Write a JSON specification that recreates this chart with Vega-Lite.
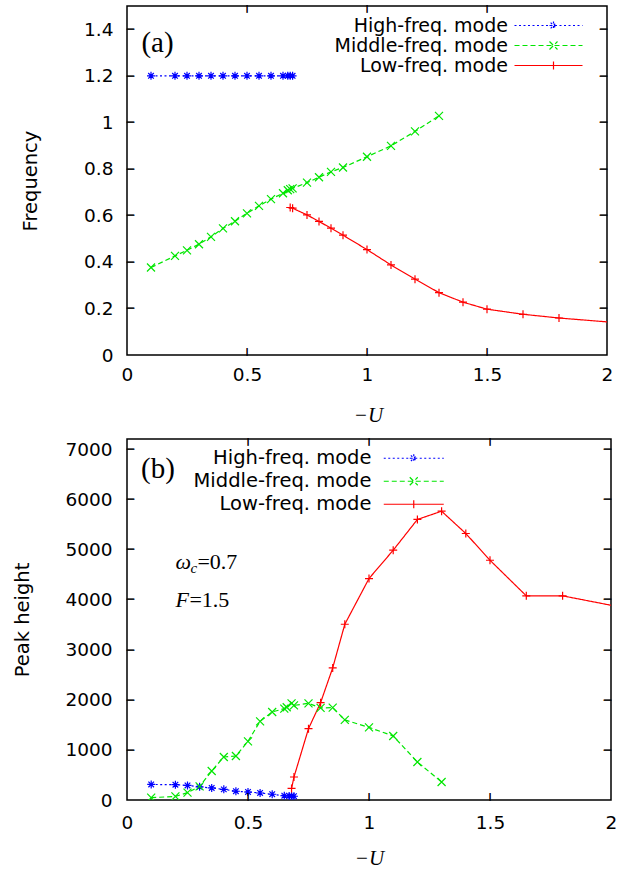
{
  "$schema": "https://vega.github.io/schema/vega-lite/v6.json",
  "background": "white",
  "padding": {"left": 11, "top": 5, "right": 0, "bottom": 0},
  "bounds": "flush",
  "spacing": 84,
  "resolve": {
    "scale": {"color": "independent", "strokeDash": "independent", "x": "independent", "y": "independent"},
    "legend": {"color": "independent", "strokeDash": "independent"}
  },
  "datasets": {
    "freq": [
      {"u": 0.1, "mode": "High-freq. mode", "value": 1.2},
      {"u": 0.2, "mode": "High-freq. mode", "value": 1.2},
      {"u": 0.25, "mode": "High-freq. mode", "value": 1.2},
      {"u": 0.3, "mode": "High-freq. mode", "value": 1.2},
      {"u": 0.35, "mode": "High-freq. mode", "value": 1.2},
      {"u": 0.4, "mode": "High-freq. mode", "value": 1.2},
      {"u": 0.45, "mode": "High-freq. mode", "value": 1.2},
      {"u": 0.5, "mode": "High-freq. mode", "value": 1.2},
      {"u": 0.55, "mode": "High-freq. mode", "value": 1.2},
      {"u": 0.6, "mode": "High-freq. mode", "value": 1.2},
      {"u": 0.65, "mode": "High-freq. mode", "value": 1.2},
      {"u": 0.67, "mode": "High-freq. mode", "value": 1.2},
      {"u": 0.68, "mode": "High-freq. mode", "value": 1.2},
      {"u": 0.69, "mode": "High-freq. mode", "value": 1.2},
      {"u": 0.1, "mode": "Middle-freq. mode", "value": 0.376},
      {"u": 0.2, "mode": "Middle-freq. mode", "value": 0.426},
      {"u": 0.25, "mode": "Middle-freq. mode", "value": 0.45},
      {"u": 0.3, "mode": "Middle-freq. mode", "value": 0.476},
      {"u": 0.35, "mode": "Middle-freq. mode", "value": 0.508},
      {"u": 0.4, "mode": "Middle-freq. mode", "value": 0.544},
      {"u": 0.45, "mode": "Middle-freq. mode", "value": 0.575},
      {"u": 0.5, "mode": "Middle-freq. mode", "value": 0.609},
      {"u": 0.55, "mode": "Middle-freq. mode", "value": 0.641},
      {"u": 0.6, "mode": "Middle-freq. mode", "value": 0.67},
      {"u": 0.65, "mode": "Middle-freq. mode", "value": 0.695},
      {"u": 0.67, "mode": "Middle-freq. mode", "value": 0.708},
      {"u": 0.68, "mode": "Middle-freq. mode", "value": 0.713},
      {"u": 0.69, "mode": "Middle-freq. mode", "value": 0.716},
      {"u": 0.75, "mode": "Middle-freq. mode", "value": 0.741},
      {"u": 0.8, "mode": "Middle-freq. mode", "value": 0.764},
      {"u": 0.85, "mode": "Middle-freq. mode", "value": 0.787},
      {"u": 0.9, "mode": "Middle-freq. mode", "value": 0.806},
      {"u": 1.0, "mode": "Middle-freq. mode", "value": 0.852},
      {"u": 1.1, "mode": "Middle-freq. mode", "value": 0.899},
      {"u": 1.2, "mode": "Middle-freq. mode", "value": 0.961},
      {"u": 1.3, "mode": "Middle-freq. mode", "value": 1.028},
      {"u": 0.68, "mode": "Low-freq. mode", "value": 0.634},
      {"u": 0.69, "mode": "Low-freq. mode", "value": 0.631},
      {"u": 0.75, "mode": "Low-freq. mode", "value": 0.602},
      {"u": 0.8, "mode": "Low-freq. mode", "value": 0.574},
      {"u": 0.85, "mode": "Low-freq. mode", "value": 0.545},
      {"u": 0.9, "mode": "Low-freq. mode", "value": 0.515},
      {"u": 1.0, "mode": "Low-freq. mode", "value": 0.453},
      {"u": 1.1, "mode": "Low-freq. mode", "value": 0.387},
      {"u": 1.2, "mode": "Low-freq. mode", "value": 0.326},
      {"u": 1.3, "mode": "Low-freq. mode", "value": 0.268},
      {"u": 1.4, "mode": "Low-freq. mode", "value": 0.227},
      {"u": 1.5, "mode": "Low-freq. mode", "value": 0.197},
      {"u": 1.65, "mode": "Low-freq. mode", "value": 0.175},
      {"u": 1.8, "mode": "Low-freq. mode", "value": 0.159},
      {"u": 2.1, "mode": "Low-freq. mode", "value": 0.134}
    ],
    "peak": [
      {"u": 0.1, "mode": "High-freq. mode", "value": 310},
      {"u": 0.2, "mode": "High-freq. mode", "value": 305},
      {"u": 0.25, "mode": "High-freq. mode", "value": 290},
      {"u": 0.3, "mode": "High-freq. mode", "value": 262},
      {"u": 0.35, "mode": "High-freq. mode", "value": 240},
      {"u": 0.4, "mode": "High-freq. mode", "value": 212},
      {"u": 0.45, "mode": "High-freq. mode", "value": 175},
      {"u": 0.5, "mode": "High-freq. mode", "value": 160},
      {"u": 0.55, "mode": "High-freq. mode", "value": 140},
      {"u": 0.6, "mode": "High-freq. mode", "value": 115},
      {"u": 0.65, "mode": "High-freq. mode", "value": 85},
      {"u": 0.67, "mode": "High-freq. mode", "value": 80},
      {"u": 0.68, "mode": "High-freq. mode", "value": 78},
      {"u": 0.69, "mode": "High-freq. mode", "value": 75},
      {"u": 0.1, "mode": "Middle-freq. mode", "value": 46},
      {"u": 0.2, "mode": "Middle-freq. mode", "value": 72},
      {"u": 0.25, "mode": "Middle-freq. mode", "value": 146},
      {"u": 0.3, "mode": "Middle-freq. mode", "value": 272},
      {"u": 0.35, "mode": "Middle-freq. mode", "value": 579},
      {"u": 0.4, "mode": "Middle-freq. mode", "value": 858},
      {"u": 0.45, "mode": "Middle-freq. mode", "value": 878},
      {"u": 0.5, "mode": "Middle-freq. mode", "value": 1170},
      {"u": 0.55, "mode": "Middle-freq. mode", "value": 1569},
      {"u": 0.6, "mode": "Middle-freq. mode", "value": 1756},
      {"u": 0.65, "mode": "Middle-freq. mode", "value": 1822},
      {"u": 0.66, "mode": "Middle-freq. mode", "value": 1850},
      {"u": 0.68, "mode": "Middle-freq. mode", "value": 1928},
      {"u": 0.69, "mode": "Middle-freq. mode", "value": 1888},
      {"u": 0.75, "mode": "Middle-freq. mode", "value": 1928},
      {"u": 0.8, "mode": "Middle-freq. mode", "value": 1836},
      {"u": 0.85, "mode": "Middle-freq. mode", "value": 1842},
      {"u": 0.9, "mode": "Middle-freq. mode", "value": 1597},
      {"u": 1.0, "mode": "Middle-freq. mode", "value": 1449},
      {"u": 1.1, "mode": "Middle-freq. mode", "value": 1277},
      {"u": 1.2, "mode": "Middle-freq. mode", "value": 758},
      {"u": 1.3, "mode": "Middle-freq. mode", "value": 359},
      {"u": 0.68, "mode": "Low-freq. mode", "value": 230},
      {"u": 0.69, "mode": "Low-freq. mode", "value": 459},
      {"u": 0.75, "mode": "Low-freq. mode", "value": 1423},
      {"u": 0.8, "mode": "Low-freq. mode", "value": 1942},
      {"u": 0.85, "mode": "Low-freq. mode", "value": 2635},
      {"u": 0.9, "mode": "Low-freq. mode", "value": 3505},
      {"u": 1.0, "mode": "Low-freq. mode", "value": 4417},
      {"u": 1.1, "mode": "Low-freq. mode", "value": 4982},
      {"u": 1.2, "mode": "Low-freq. mode", "value": 5595},
      {"u": 1.3, "mode": "Low-freq. mode", "value": 5760},
      {"u": 1.4, "mode": "Low-freq. mode", "value": 5315},
      {"u": 1.5, "mode": "Low-freq. mode", "value": 4782},
      {"u": 1.65, "mode": "Low-freq. mode", "value": 4072},
      {"u": 1.8, "mode": "Low-freq. mode", "value": 4072},
      {"u": 2.1, "mode": "Low-freq. mode", "value": 3790}
    ]
  },
  "config": {
    "view": {"stroke": "black", "strokeWidth": 1.5},
    "axis": {
      "domain": false, "ticks": false, "tickSize": 0, "grid": false,
      "labelFont": "DejaVu Sans", "labelFontSize": 18.5, "labelColor": "black", "labelFlush": false,
      "titleColor": "black", "titleFontWeight": "normal"
    },
    "axisX": {"labelPadding": 10, "titleFont": "Liberation Serif", "titleFontStyle": "italic", "titleFontSize": 21, "titleBaseline": "middle"},
    "axisY": {"labelPadding": 14, "titleFont": "DejaVu Sans", "titleFontSize": 19.5, "titleBaseline": "middle"}
  },
  "vconcat": [
    {
      "width": 480,
      "height": 349,
      "data": {"name": "freq"},
      "layer": [
        {
          "mark": {"type": "line", "strokeWidth": 1.2, "clip": true},
          "encoding": {
            "x": {"field": "u", "type": "quantitative", "scale": {"domain": [0, 2], "nice": false, "zero": false},
                  "axis": {"values": [0, 0.5, 1, 1.5, 2], "format": "~g", "title": "−U", "titleY": 60, "titleX": 241}},
            "y": {"field": "value", "type": "quantitative", "scale": {"domain": [0, 1.5], "nice": false},
                  "axis": {"values": [0, 0.2, 0.4, 0.6, 0.8, 1, 1.2, 1.4], "format": "~g", "title": "Frequency", "titleX": -97}},
            "color": {"field": "mode", "type": "nominal",
                      "scale": {"domain": ["High-freq. mode", "Middle-freq. mode", "Low-freq. mode"], "range": ["#0000ff", "#00e600", "#ff0000"]},
                      "legend": {
                        "orient": "none", "legendX": 383, "legendY": 10, "title": null, "padding": 0,
                        "labelFont": "DejaVu Sans", "labelFontSize": 19, "labelColor": "black", "labelLimit": 0,
                        "labelAlign": "right", "labelOffset": -21, "rowPadding": 0,
                        "symbolType": "M-1,0H12.6", "symbolSize": 100, "symbolStrokeWidth": 1.2,
                        "encoding": {"symbols": {
                          "shape": {"value": {"expr": "datum.value === 'High-freq. mode' ? 'M-1,0H12.6M6,0H7.6M6.8,-0.8V0.8M6.23,-0.57L7.37,0.57M6.23,0.57L7.37,-0.57' : datum.value === 'Middle-freq. mode' ? 'M-1,0H12.6M6,-0.8L7.6,0.8M6,0.8L7.6,-0.8' : 'M-1,0H12.6M6.8,-0.8V0.8'"}},
                          "size": {"value": 100},
                          "fill": {"value": "transparent"},
                          "strokeWidth": {"value": 1.2}
                        }}
                      }},
            "strokeDash": {"field": "mode", "type": "nominal",
                           "scale": {"domain": ["High-freq. mode", "Middle-freq. mode", "Low-freq. mode"], "range": [[2, 2.5], [5, 3], [1, 0]]},
                           "legend": {"orient": "none", "legendX": 383, "legendY": 10, "title": null}}
          }
        },
        {
          "transform": [{"filter": "datum.mode === 'High-freq. mode'"}],
          "mark": {"type": "point", "filled": false, "size": 64, "strokeWidth": 1.2, "opacity": 1, "clip": true, "color": "#0000ff",
                   "shape": "M-1,0H1M0,-1V1M-0.7,-0.7L0.7,0.7M-0.7,0.7L0.7,-0.7"},
          "encoding": {"x": {"field": "u", "type": "quantitative"}, "y": {"field": "value", "type": "quantitative"}}
        },
        {
          "transform": [{"filter": "datum.mode === 'Middle-freq. mode'"}],
          "mark": {"type": "point", "filled": false, "size": 64, "strokeWidth": 1.2, "opacity": 1, "clip": true, "color": "#00e600",
                   "shape": "M-1,-1L1,1M-1,1L1,-1"},
          "encoding": {"x": {"field": "u", "type": "quantitative"}, "y": {"field": "value", "type": "quantitative"}}
        },
        {
          "transform": [{"filter": "datum.mode === 'Low-freq. mode'"}],
          "mark": {"type": "point", "filled": false, "size": 64, "strokeWidth": 1.2, "opacity": 1, "clip": true, "color": "#ff0000",
                   "shape": "M-1,0H1M0,-1V1"},
          "encoding": {"x": {"field": "u", "type": "quantitative"}, "y": {"field": "value", "type": "quantitative"}}
        },
        {
          "data": {"values": [{}]},
          "mark": {"type": "text", "text": "(a)", "font": "Liberation Serif", "fontSize": 29, "align": "left", "baseline": "middle", "color": "black"},
          "encoding": {"x": {"datum": 0.06, "type": "quantitative"}, "y": {"datum": 1.34, "type": "quantitative"}}
        },
        {"data": {"values": [{}]}, "mark": {"type": "text", "text": "│", "font": "DejaVu Sans Mono", "fontSize": 6, "align": "center", "baseline": "bottom", "color": "black", "stroke": "black", "strokeWidth": 0.8}, "encoding": {"x": {"datum": 0.5, "type": "quantitative"}, "y": {"datum": 0, "type": "quantitative"}}},
        {"data": {"values": [{}]}, "mark": {"type": "text", "text": "│", "font": "DejaVu Sans Mono", "fontSize": 6, "align": "center", "baseline": "bottom", "color": "black", "stroke": "black", "strokeWidth": 0.8}, "encoding": {"x": {"datum": 1, "type": "quantitative"}, "y": {"datum": 0, "type": "quantitative"}}},
        {"data": {"values": [{}]}, "mark": {"type": "text", "text": "│", "font": "DejaVu Sans Mono", "fontSize": 6, "align": "center", "baseline": "bottom", "color": "black", "stroke": "black", "strokeWidth": 0.8}, "encoding": {"x": {"datum": 1.5, "type": "quantitative"}, "y": {"datum": 0, "type": "quantitative"}}},
        {"data": {"values": [{}]}, "mark": {"type": "text", "text": "│", "font": "DejaVu Sans Mono", "fontSize": 6, "align": "center", "baseline": "top", "color": "black", "stroke": "black", "strokeWidth": 0.8}, "encoding": {"x": {"datum": 0.5, "type": "quantitative"}, "y": {"datum": 1.5, "type": "quantitative"}}},
        {"data": {"values": [{}]}, "mark": {"type": "text", "text": "│", "font": "DejaVu Sans Mono", "fontSize": 6, "align": "center", "baseline": "top", "color": "black", "stroke": "black", "strokeWidth": 0.8}, "encoding": {"x": {"datum": 1, "type": "quantitative"}, "y": {"datum": 1.5, "type": "quantitative"}}},
        {"data": {"values": [{}]}, "mark": {"type": "text", "text": "│", "font": "DejaVu Sans Mono", "fontSize": 6, "align": "center", "baseline": "top", "color": "black", "stroke": "black", "strokeWidth": 0.8}, "encoding": {"x": {"datum": 1.5, "type": "quantitative"}, "y": {"datum": 1.5, "type": "quantitative"}}},
        {"data": {"values": [{}]}, "mark": {"type": "text", "text": "─", "font": "DejaVu Sans Mono", "fontSize": 11.6, "align": "left", "baseline": "middle", "dy": 1, "color": "black", "stroke": "black", "strokeWidth": 0.4}, "encoding": {"x": {"datum": 0, "type": "quantitative"}, "y": {"datum": 0.2, "type": "quantitative"}}},
        {"data": {"values": [{}]}, "mark": {"type": "text", "text": "─", "font": "DejaVu Sans Mono", "fontSize": 11.6, "align": "left", "baseline": "middle", "dy": 1, "color": "black", "stroke": "black", "strokeWidth": 0.4}, "encoding": {"x": {"datum": 0, "type": "quantitative"}, "y": {"datum": 0.4, "type": "quantitative"}}},
        {"data": {"values": [{}]}, "mark": {"type": "text", "text": "─", "font": "DejaVu Sans Mono", "fontSize": 11.6, "align": "left", "baseline": "middle", "dy": 1, "color": "black", "stroke": "black", "strokeWidth": 0.4}, "encoding": {"x": {"datum": 0, "type": "quantitative"}, "y": {"datum": 0.6, "type": "quantitative"}}},
        {"data": {"values": [{}]}, "mark": {"type": "text", "text": "─", "font": "DejaVu Sans Mono", "fontSize": 11.6, "align": "left", "baseline": "middle", "dy": 1, "color": "black", "stroke": "black", "strokeWidth": 0.4}, "encoding": {"x": {"datum": 0, "type": "quantitative"}, "y": {"datum": 0.8, "type": "quantitative"}}},
        {"data": {"values": [{}]}, "mark": {"type": "text", "text": "─", "font": "DejaVu Sans Mono", "fontSize": 11.6, "align": "left", "baseline": "middle", "dy": 1, "color": "black", "stroke": "black", "strokeWidth": 0.4}, "encoding": {"x": {"datum": 0, "type": "quantitative"}, "y": {"datum": 1, "type": "quantitative"}}},
        {"data": {"values": [{}]}, "mark": {"type": "text", "text": "─", "font": "DejaVu Sans Mono", "fontSize": 11.6, "align": "left", "baseline": "middle", "dy": 1, "color": "black", "stroke": "black", "strokeWidth": 0.4}, "encoding": {"x": {"datum": 0, "type": "quantitative"}, "y": {"datum": 1.2, "type": "quantitative"}}},
        {"data": {"values": [{}]}, "mark": {"type": "text", "text": "─", "font": "DejaVu Sans Mono", "fontSize": 11.6, "align": "left", "baseline": "middle", "dy": 1, "color": "black", "stroke": "black", "strokeWidth": 0.4}, "encoding": {"x": {"datum": 0, "type": "quantitative"}, "y": {"datum": 1.4, "type": "quantitative"}}},
        {"data": {"values": [{}]}, "mark": {"type": "text", "text": "─", "font": "DejaVu Sans Mono", "fontSize": 11.6, "align": "right", "baseline": "middle", "dy": 1, "color": "black", "stroke": "black", "strokeWidth": 0.4}, "encoding": {"x": {"datum": 2, "type": "quantitative"}, "y": {"datum": 0.2, "type": "quantitative"}}},
        {"data": {"values": [{}]}, "mark": {"type": "text", "text": "─", "font": "DejaVu Sans Mono", "fontSize": 11.6, "align": "right", "baseline": "middle", "dy": 1, "color": "black", "stroke": "black", "strokeWidth": 0.4}, "encoding": {"x": {"datum": 2, "type": "quantitative"}, "y": {"datum": 0.4, "type": "quantitative"}}},
        {"data": {"values": [{}]}, "mark": {"type": "text", "text": "─", "font": "DejaVu Sans Mono", "fontSize": 11.6, "align": "right", "baseline": "middle", "dy": 1, "color": "black", "stroke": "black", "strokeWidth": 0.4}, "encoding": {"x": {"datum": 2, "type": "quantitative"}, "y": {"datum": 0.6, "type": "quantitative"}}},
        {"data": {"values": [{}]}, "mark": {"type": "text", "text": "─", "font": "DejaVu Sans Mono", "fontSize": 11.6, "align": "right", "baseline": "middle", "dy": 1, "color": "black", "stroke": "black", "strokeWidth": 0.4}, "encoding": {"x": {"datum": 2, "type": "quantitative"}, "y": {"datum": 0.8, "type": "quantitative"}}},
        {"data": {"values": [{}]}, "mark": {"type": "text", "text": "─", "font": "DejaVu Sans Mono", "fontSize": 11.6, "align": "right", "baseline": "middle", "dy": 1, "color": "black", "stroke": "black", "strokeWidth": 0.4}, "encoding": {"x": {"datum": 2, "type": "quantitative"}, "y": {"datum": 1, "type": "quantitative"}}},
        {"data": {"values": [{}]}, "mark": {"type": "text", "text": "─", "font": "DejaVu Sans Mono", "fontSize": 11.6, "align": "right", "baseline": "middle", "dy": 1, "color": "black", "stroke": "black", "strokeWidth": 0.4}, "encoding": {"x": {"datum": 2, "type": "quantitative"}, "y": {"datum": 1.2, "type": "quantitative"}}},
        {"data": {"values": [{}]}, "mark": {"type": "text", "text": "─", "font": "DejaVu Sans Mono", "fontSize": 11.6, "align": "right", "baseline": "middle", "dy": 1, "color": "black", "stroke": "black", "strokeWidth": 0.4}, "encoding": {"x": {"datum": 2, "type": "quantitative"}, "y": {"datum": 1.4, "type": "quantitative"}}}
      ]
    },
    {
      "width": 484,
      "height": 361,
      "data": {"name": "peak"},
      "layer": [
        {
          "mark": {"type": "line", "strokeWidth": 1.2, "clip": true},
          "encoding": {
            "x": {"field": "u", "type": "quantitative", "scale": {"domain": [0, 2], "nice": false, "zero": false},
                  "axis": {"values": [0, 0.5, 1, 1.5, 2], "format": "~g", "title": "−U", "titleY": 58, "titleX": 242, "labelPadding": 13}},
            "y": {"field": "value", "type": "quantitative", "scale": {"domain": [0, 7200], "nice": false},
                  "axis": {"values": [0, 1000, 2000, 3000, 4000, 5000, 6000, 7000], "format": "d", "title": "Peak height", "titleX": -105, "labelPadding": 15}},
            "color": {"field": "mode", "type": "nominal",
                      "scale": {"domain": ["High-freq. mode", "Middle-freq. mode", "Low-freq. mode"], "range": ["#0000ff", "#00e600", "#ff0000"]},
                      "legend": {
                        "orient": "none", "legendX": 252, "legendY": 9.5, "title": null, "padding": 0,
                        "labelFont": "DejaVu Sans", "labelFontSize": 19.5, "labelColor": "black", "labelLimit": 0,
                        "labelAlign": "right", "labelOffset": -27, "rowPadding": 2,
                        "symbolType": "M-1,0H11", "symbolSize": 100, "symbolStrokeWidth": 1.2,
                        "encoding": {"symbols": {
                          "shape": {"value": {"expr": "datum.value === 'High-freq. mode' ? 'M-1,0H11M4.2,0H5.8M5,-0.8V0.8M4.43,-0.57L5.57,0.57M4.43,0.57L5.57,-0.57' : datum.value === 'Middle-freq. mode' ? 'M-1,0H11M4.2,-0.8L5.8,0.8M4.2,0.8L5.8,-0.8' : 'M-1,0H11M5,-0.8V0.8'"}},
                          "size": {"value": 100},
                          "fill": {"value": "transparent"},
                          "strokeWidth": {"value": 1.2}
                        }}
                      }},
            "strokeDash": {"field": "mode", "type": "nominal",
                           "scale": {"domain": ["High-freq. mode", "Middle-freq. mode", "Low-freq. mode"], "range": [[2, 2.5], [5, 3], [1, 0]]},
                           "legend": {"orient": "none", "legendX": 252, "legendY": 9.5, "title": null}}
          }
        },
        {
          "transform": [{"filter": "datum.mode === 'High-freq. mode'"}],
          "mark": {"type": "point", "filled": false, "size": 64, "strokeWidth": 1.2, "opacity": 1, "clip": true, "color": "#0000ff",
                   "shape": "M-1,0H1M0,-1V1M-0.7,-0.7L0.7,0.7M-0.7,0.7L0.7,-0.7"},
          "encoding": {"x": {"field": "u", "type": "quantitative"}, "y": {"field": "value", "type": "quantitative"}}
        },
        {
          "transform": [{"filter": "datum.mode === 'Middle-freq. mode'"}],
          "mark": {"type": "point", "filled": false, "size": 64, "strokeWidth": 1.2, "opacity": 1, "clip": true, "color": "#00e600",
                   "shape": "M-1,-1L1,1M-1,1L1,-1"},
          "encoding": {"x": {"field": "u", "type": "quantitative"}, "y": {"field": "value", "type": "quantitative"}}
        },
        {
          "transform": [{"filter": "datum.mode === 'Low-freq. mode'"}],
          "mark": {"type": "point", "filled": false, "size": 64, "strokeWidth": 1.2, "opacity": 1, "clip": true, "color": "#ff0000",
                   "shape": "M-1,0H1M0,-1V1"},
          "encoding": {"x": {"field": "u", "type": "quantitative"}, "y": {"field": "value", "type": "quantitative"}}
        },
        {
          "data": {"values": [{}]},
          "mark": {"type": "text", "text": "(b)", "font": "Liberation Serif", "fontSize": 29, "align": "left", "baseline": "middle", "color": "black"},
          "encoding": {"x": {"datum": 0.058, "type": "quantitative"}, "y": {"datum": 6607, "type": "quantitative"}}
        },
        {
          "data": {"values": [{}]},
          "mark": {"type": "text", "text": "ω", "font": "Liberation Serif", "fontStyle": "italic", "fontSize": 22, "align": "left", "baseline": "middle", "color": "black"},
          "encoding": {"x": {"datum": 0.2, "type": "quantitative"}, "y": {"datum": 4753, "type": "quantitative"}}
        },
        {
          "data": {"values": [{}]},
          "mark": {"type": "text", "text": "c", "font": "Liberation Serif", "fontStyle": "italic", "fontSize": 15, "align": "left", "baseline": "middle", "dx": 15, "dy": 6, "color": "black"},
          "encoding": {"x": {"datum": 0.2, "type": "quantitative"}, "y": {"datum": 4753, "type": "quantitative"}}
        },
        {
          "data": {"values": [{}]},
          "mark": {"type": "text", "text": "=0.7", "font": "Liberation Serif", "fontSize": 22, "align": "left", "baseline": "middle", "dx": 22, "color": "black"},
          "encoding": {"x": {"datum": 0.2, "type": "quantitative"}, "y": {"datum": 4753, "type": "quantitative"}}
        },
        {
          "data": {"values": [{}]},
          "mark": {"type": "text", "text": "F", "font": "Liberation Serif", "fontStyle": "italic", "fontSize": 22, "align": "left", "baseline": "middle", "color": "black"},
          "encoding": {"x": {"datum": 0.2, "type": "quantitative"}, "y": {"datum": 3984, "type": "quantitative"}}
        },
        {
          "data": {"values": [{}]},
          "mark": {"type": "text", "text": "=1.5", "font": "Liberation Serif", "fontSize": 22, "align": "left", "baseline": "middle", "dx": 14, "color": "black"},
          "encoding": {"x": {"datum": 0.2, "type": "quantitative"}, "y": {"datum": 3984, "type": "quantitative"}}
        },
        {"data": {"values": [{}]}, "mark": {"type": "text", "text": "│", "font": "DejaVu Sans Mono", "fontSize": 6, "align": "center", "baseline": "bottom", "color": "black", "stroke": "black", "strokeWidth": 0.8}, "encoding": {"x": {"datum": 0.5, "type": "quantitative"}, "y": {"datum": 0, "type": "quantitative"}}},
        {"data": {"values": [{}]}, "mark": {"type": "text", "text": "│", "font": "DejaVu Sans Mono", "fontSize": 6, "align": "center", "baseline": "bottom", "color": "black", "stroke": "black", "strokeWidth": 0.8}, "encoding": {"x": {"datum": 1, "type": "quantitative"}, "y": {"datum": 0, "type": "quantitative"}}},
        {"data": {"values": [{}]}, "mark": {"type": "text", "text": "│", "font": "DejaVu Sans Mono", "fontSize": 6, "align": "center", "baseline": "bottom", "color": "black", "stroke": "black", "strokeWidth": 0.8}, "encoding": {"x": {"datum": 1.5, "type": "quantitative"}, "y": {"datum": 0, "type": "quantitative"}}},
        {"data": {"values": [{}]}, "mark": {"type": "text", "text": "│", "font": "DejaVu Sans Mono", "fontSize": 6, "align": "center", "baseline": "top", "color": "black", "stroke": "black", "strokeWidth": 0.8}, "encoding": {"x": {"datum": 0.5, "type": "quantitative"}, "y": {"datum": 7200, "type": "quantitative"}}},
        {"data": {"values": [{}]}, "mark": {"type": "text", "text": "│", "font": "DejaVu Sans Mono", "fontSize": 6, "align": "center", "baseline": "top", "color": "black", "stroke": "black", "strokeWidth": 0.8}, "encoding": {"x": {"datum": 1, "type": "quantitative"}, "y": {"datum": 7200, "type": "quantitative"}}},
        {"data": {"values": [{}]}, "mark": {"type": "text", "text": "│", "font": "DejaVu Sans Mono", "fontSize": 6, "align": "center", "baseline": "top", "color": "black", "stroke": "black", "strokeWidth": 0.8}, "encoding": {"x": {"datum": 1.5, "type": "quantitative"}, "y": {"datum": 7200, "type": "quantitative"}}},
        {"data": {"values": [{}]}, "mark": {"type": "text", "text": "─", "font": "DejaVu Sans Mono", "fontSize": 11.6, "align": "left", "baseline": "middle", "dy": 1, "color": "black", "stroke": "black", "strokeWidth": 0.4}, "encoding": {"x": {"datum": 0, "type": "quantitative"}, "y": {"datum": 1000, "type": "quantitative"}}},
        {"data": {"values": [{}]}, "mark": {"type": "text", "text": "─", "font": "DejaVu Sans Mono", "fontSize": 11.6, "align": "left", "baseline": "middle", "dy": 1, "color": "black", "stroke": "black", "strokeWidth": 0.4}, "encoding": {"x": {"datum": 0, "type": "quantitative"}, "y": {"datum": 2000, "type": "quantitative"}}},
        {"data": {"values": [{}]}, "mark": {"type": "text", "text": "─", "font": "DejaVu Sans Mono", "fontSize": 11.6, "align": "left", "baseline": "middle", "dy": 1, "color": "black", "stroke": "black", "strokeWidth": 0.4}, "encoding": {"x": {"datum": 0, "type": "quantitative"}, "y": {"datum": 3000, "type": "quantitative"}}},
        {"data": {"values": [{}]}, "mark": {"type": "text", "text": "─", "font": "DejaVu Sans Mono", "fontSize": 11.6, "align": "left", "baseline": "middle", "dy": 1, "color": "black", "stroke": "black", "strokeWidth": 0.4}, "encoding": {"x": {"datum": 0, "type": "quantitative"}, "y": {"datum": 4000, "type": "quantitative"}}},
        {"data": {"values": [{}]}, "mark": {"type": "text", "text": "─", "font": "DejaVu Sans Mono", "fontSize": 11.6, "align": "left", "baseline": "middle", "dy": 1, "color": "black", "stroke": "black", "strokeWidth": 0.4}, "encoding": {"x": {"datum": 0, "type": "quantitative"}, "y": {"datum": 5000, "type": "quantitative"}}},
        {"data": {"values": [{}]}, "mark": {"type": "text", "text": "─", "font": "DejaVu Sans Mono", "fontSize": 11.6, "align": "left", "baseline": "middle", "dy": 1, "color": "black", "stroke": "black", "strokeWidth": 0.4}, "encoding": {"x": {"datum": 0, "type": "quantitative"}, "y": {"datum": 6000, "type": "quantitative"}}},
        {"data": {"values": [{}]}, "mark": {"type": "text", "text": "─", "font": "DejaVu Sans Mono", "fontSize": 11.6, "align": "left", "baseline": "middle", "dy": 1, "color": "black", "stroke": "black", "strokeWidth": 0.4}, "encoding": {"x": {"datum": 0, "type": "quantitative"}, "y": {"datum": 7000, "type": "quantitative"}}},
        {"data": {"values": [{}]}, "mark": {"type": "text", "text": "─", "font": "DejaVu Sans Mono", "fontSize": 11.6, "align": "right", "baseline": "middle", "dy": 1, "color": "black", "stroke": "black", "strokeWidth": 0.4}, "encoding": {"x": {"datum": 2, "type": "quantitative"}, "y": {"datum": 1000, "type": "quantitative"}}},
        {"data": {"values": [{}]}, "mark": {"type": "text", "text": "─", "font": "DejaVu Sans Mono", "fontSize": 11.6, "align": "right", "baseline": "middle", "dy": 1, "color": "black", "stroke": "black", "strokeWidth": 0.4}, "encoding": {"x": {"datum": 2, "type": "quantitative"}, "y": {"datum": 2000, "type": "quantitative"}}},
        {"data": {"values": [{}]}, "mark": {"type": "text", "text": "─", "font": "DejaVu Sans Mono", "fontSize": 11.6, "align": "right", "baseline": "middle", "dy": 1, "color": "black", "stroke": "black", "strokeWidth": 0.4}, "encoding": {"x": {"datum": 2, "type": "quantitative"}, "y": {"datum": 3000, "type": "quantitative"}}},
        {"data": {"values": [{}]}, "mark": {"type": "text", "text": "─", "font": "DejaVu Sans Mono", "fontSize": 11.6, "align": "right", "baseline": "middle", "dy": 1, "color": "black", "stroke": "black", "strokeWidth": 0.4}, "encoding": {"x": {"datum": 2, "type": "quantitative"}, "y": {"datum": 4000, "type": "quantitative"}}},
        {"data": {"values": [{}]}, "mark": {"type": "text", "text": "─", "font": "DejaVu Sans Mono", "fontSize": 11.6, "align": "right", "baseline": "middle", "dy": 1, "color": "black", "stroke": "black", "strokeWidth": 0.4}, "encoding": {"x": {"datum": 2, "type": "quantitative"}, "y": {"datum": 5000, "type": "quantitative"}}},
        {"data": {"values": [{}]}, "mark": {"type": "text", "text": "─", "font": "DejaVu Sans Mono", "fontSize": 11.6, "align": "right", "baseline": "middle", "dy": 1, "color": "black", "stroke": "black", "strokeWidth": 0.4}, "encoding": {"x": {"datum": 2, "type": "quantitative"}, "y": {"datum": 6000, "type": "quantitative"}}},
        {"data": {"values": [{}]}, "mark": {"type": "text", "text": "─", "font": "DejaVu Sans Mono", "fontSize": 11.6, "align": "right", "baseline": "middle", "dy": 1, "color": "black", "stroke": "black", "strokeWidth": 0.4}, "encoding": {"x": {"datum": 2, "type": "quantitative"}, "y": {"datum": 7000, "type": "quantitative"}}}
      ]
    }
  ]
}
